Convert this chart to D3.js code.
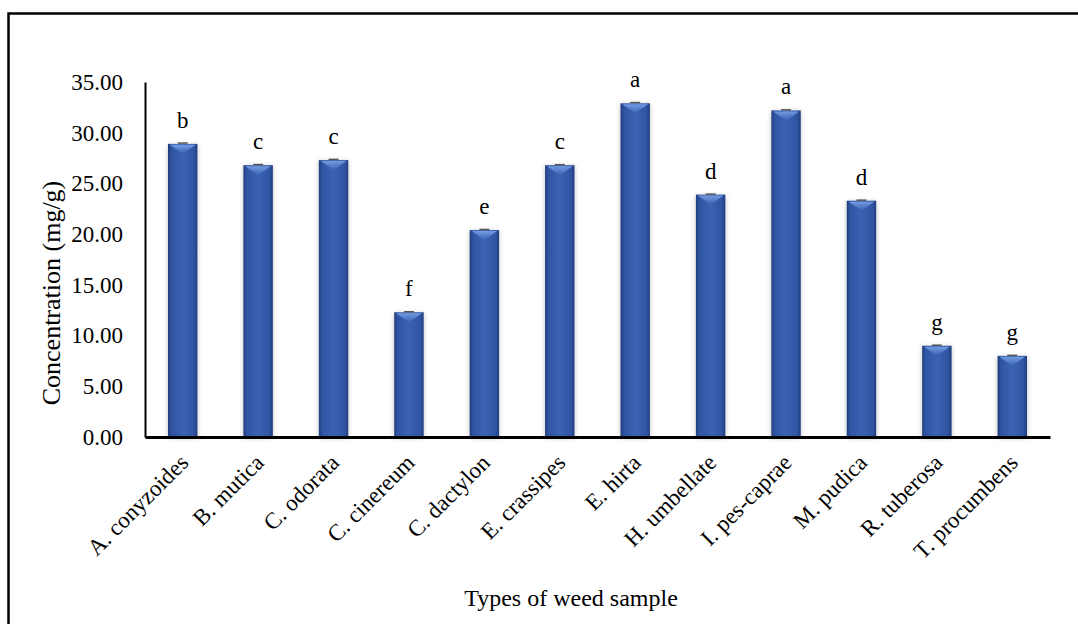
<!DOCTYPE html>
<html><head><meta charset="utf-8">
<script src="https://cdn.jsdelivr.net/npm/d3@7"></script>
<style>body{margin:0;background:#fff}svg{display:block}</style>
</head><body>
<svg id="c" width="1078" height="624"></svg>
<script>
const categories = ["A. conyzoides","B. mutica","C. odorata","C. cinereum","C. dactylon","E. crassipes","E. hirta","H. umbellate","I. pes-caprae","M. pudica","R. tuberosa","T. procumbens"];
const values = [28.9, 26.8, 27.3, 12.3, 20.4, 26.8, 32.9, 23.9, 32.2, 23.3, 9.0, 8.0];
const errors = [0.08, 0.06, 0.07, 0.05, 0.06, 0.05, 0.07, 0.05, 0.06, 0.05, 0.05, 0.05];
const letters = ["b","c","c","f","e","c","a","d","a","d","g","g"];
const yTicks = [0,5,10,15,20,25,30,35];

const svg = d3.select("#c");
const font = "'Liberation Serif','Times New Roman',serif";
const m = {l:145, r:1050, t:82, b:437};

// outer border
svg.append("rect").attr("x",8.5).attr("y",13.5).attr("width",1200).attr("height",800)
  .attr("fill","none").attr("stroke","#000").attr("stroke-width",2.5);

const x = d3.scaleBand().domain(categories).range([m.l,m.r]).paddingInner(0.61).paddingOuter(0.305);
const y = d3.scaleLinear().domain([0,35]).range([m.b,m.t]);

const defs = svg.append("defs");
const g1 = defs.append("linearGradient").attr("id","barg").attr("x1","0").attr("x2","1").attr("y1","0").attr("y2","0");
[[0,"#203d7c"],[0.12,"#3155a3"],[0.5,"#3b62b3"],[0.88,"#3155a3"],[1,"#203d7c"]].forEach(s=>g1.append("stop").attr("offset",s[0]).attr("stop-color",s[1]));
const g2 = defs.append("linearGradient").attr("id","topg").attr("x1","0").attr("x2","0").attr("y1","0").attr("y2","1");
[[0,"#7aa3e8"],[1,"#3a60b0"]].forEach(s=>g2.append("stop").attr("offset",s[0]).attr("stop-color",s[1]));
const f = defs.append("filter").attr("id","sh").attr("x","-30%").attr("y","-10%").attr("width","160%").attr("height","120%");
f.append("feGaussianBlur").attr("in","SourceAlpha").attr("stdDeviation",2.5).attr("result","b");
f.append("feOffset").attr("in","b").attr("dx",0).attr("dy",1).attr("result","o");
f.append("feComponentTransfer").attr("in","o").attr("result","o2").append("feFuncA").attr("type","linear").attr("slope",0.25);
const fm = f.append("feMerge"); fm.append("feMergeNode").attr("in","o2"); fm.append("feMergeNode").attr("in","SourceGraphic");

const bars = svg.append("g").selectAll("g").data(categories).join("g");
bars.append("rect")
  .attr("x",d=>x(d)).attr("y",(d,i)=>y(values[i])).attr("width",x.bandwidth())
  .attr("height",(d,i)=>m.b - y(values[i])).attr("fill","url(#barg)").attr("filter","url(#sh)");
// top highlight
bars.append("path").attr("d",(d,i)=>{
  const x0=x(d), w=x.bandwidth(), t=y(values[i]);
  return `M${x0+2},${t+1} L${x0+w-2},${t+1} Q${x0+w*0.75},${t+5} ${x0+w/2},${t+10} Q${x0+w*0.25},${t+5} ${x0+2},${t+1}Z`;
}).attr("fill","url(#topg)").attr("opacity",0.9);
// error caps
bars.append("line")
  .attr("x1",d=>x(d)+x.bandwidth()/2-5).attr("x2",d=>x(d)+x.bandwidth()/2+5)
  .attr("y1",(d,i)=>y(values[i]+errors[i])).attr("y2",(d,i)=>y(values[i]+errors[i]))
  .attr("stroke","#555").attr("stroke-width",1.5);
// letters
bars.append("text")
  .attr("x",d=>x(d)+x.bandwidth()/2).attr("y",(d,i)=>y(values[i])-16)
  .attr("text-anchor","middle").attr("font-family",font).attr("font-size",23).attr("fill","#000")
  .text((d,i)=>letters[i]);

// y axis
const ya = svg.append("g").attr("transform",`translate(${m.l},0)`)
  .call(d3.axisLeft(y).tickValues(yTicks).tickFormat(d3.format(".2f")).tickSize(0).tickPadding(22));
ya.select(".domain").attr("stroke","#000").attr("stroke-width",2);
ya.selectAll("text").attr("font-family",font).attr("font-size",23).attr("fill","#000");

// x axis
const xa = svg.append("g").attr("transform",`translate(0,${m.b})`)
  .call(d3.axisBottom(x).tickSize(0).tickPadding(0));
xa.select(".domain").attr("stroke","#000").attr("stroke-width",3);
xa.selectAll("text").attr("font-family",font).attr("font-size",23).attr("fill","#000")
  .attr("text-anchor","end").attr("dy","0")
  .attr("transform","translate(7,27) rotate(-45)");

// titles
svg.append("text").attr("x",571).attr("y",606).attr("text-anchor","middle")
  .attr("font-family",font).attr("font-size",24).text("Types of weed sample");
svg.append("text").attr("transform","translate(60,293) rotate(-90)").attr("text-anchor","middle")
  .attr("font-family",font).attr("font-size",26).text("Concentration (mg/g)");
</script>
</body></html>
